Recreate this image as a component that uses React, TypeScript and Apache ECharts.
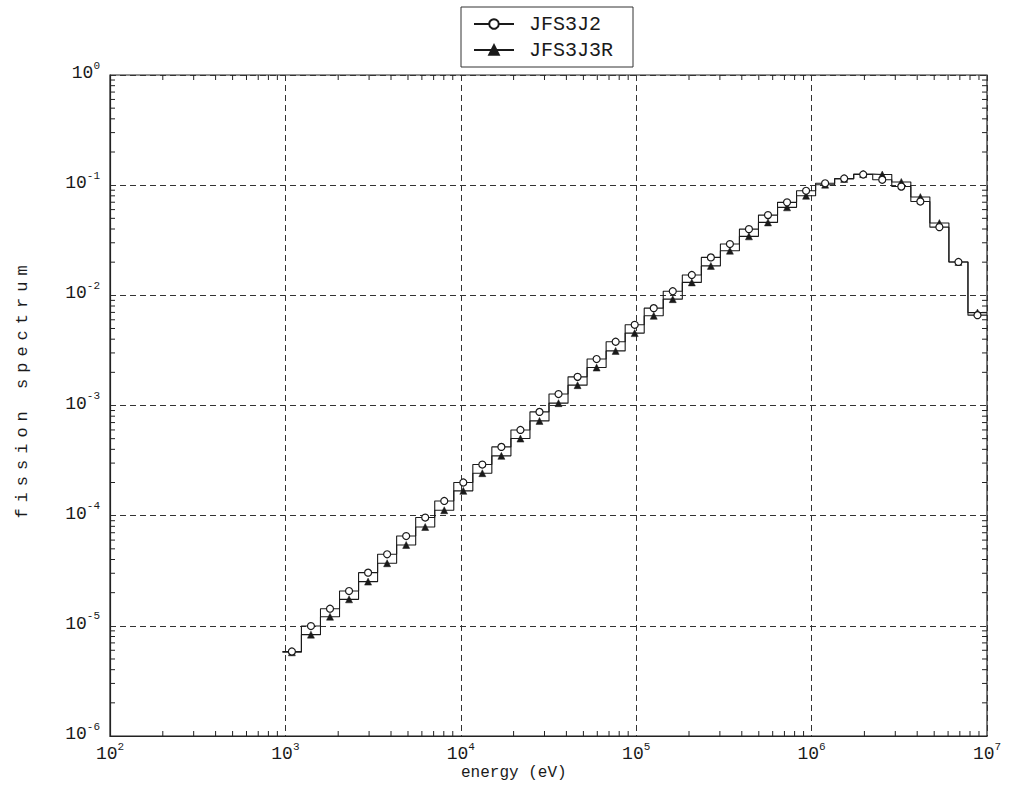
import React, { useEffect, useRef } from "react";
import * as echarts from "echarts";

// JFS-3 energy group boundaries (eV), group 1 (top) ... group 37
const groupBounds = [
  1.0e7, 7.788e6, 6.065e6, 4.724e6, 3.679e6, 2.865e6, 2.231e6, 1.738e6, 1.353e6, 1.054e6,
  8.208e5, 6.393e5, 4.979e5, 3.877e5, 3.02e5, 2.352e5, 1.832e5, 1.426e5, 1.111e5, 8.652e4,
  6.738e4, 5.248e4, 4.087e4, 3.183e4, 2.479e4, 1.931e4, 1.503e4, 1.171e4, 9119, 7102,
  5531, 4307, 3355, 2613, 2035, 1585, 1234, 961.1,
];

// fission spectrum per group, group 1 ... 37
const jfs3j2 = [
  6.61e-3, 2.01e-2, 4.16e-2, 7.1e-2, 9.71e-2, 0.112, 0.125, 0.115, 0.104, 8.89e-2,
  6.98e-2, 5.35e-2, 3.99e-2, 2.92e-2, 2.21e-2, 1.53e-2, 1.09e-2, 7.65e-3, 5.4e-3, 3.79e-3,
  2.64e-3, 1.82e-3, 1.27e-3, 8.75e-4, 6.0e-4, 4.21e-4, 2.91e-4, 2.0e-4, 1.36e-4, 9.61e-5,
  6.53e-5, 4.46e-5, 3.04e-5, 2.07e-5, 1.43e-5, 9.95e-6, 5.85e-6,
];
const jfs3j3r = [
  6.97e-3, 2.01e-2, 4.53e-2, 7.8e-2, 0.107, 0.125, 0.126, 0.114, 0.101, 8.01e-2,
  6.29e-2, 4.59e-2, 3.43e-2, 2.54e-2, 1.85e-2, 1.31e-2, 9.23e-3, 6.52e-3, 4.54e-3, 3.13e-3,
  2.21e-3, 1.53e-3, 1.05e-3, 7.25e-4, 5.01e-4, 3.49e-4, 2.43e-4, 1.68e-4, 1.12e-4, 7.89e-5,
  5.42e-5, 3.7e-5, 2.52e-5, 1.74e-5, 1.21e-5, 8.32e-6, 5.75e-6,
];

const seriesNames = ["JFS3J2", "JFS3J3R"];
const xDecades = [1e2, 1e3, 1e4, 1e5, 1e6];
const yDecades = [1e-6, 1e-5, 1e-4, 1e-3, 1e-2, 1e-1];
const minorMantissas = [2, 3, 4, 5, 6, 7, 8, 9];

const FONT = "'Liberation Mono', 'DejaVu Sans Mono', monospace";
const INK = "#1a1a1a";
const YNAME_INK = "#1b1b1c";

function stepData(vals: number[]) {
  const pts: any[] = [];
  for (let i = vals.length - 1; i >= 0; i--) {
    const lo = groupBounds[i + 1];
    const hi = groupBounds[i];
    pts.push({ value: [lo, vals[i]], symbol: "none" });
    pts.push({ value: [Math.sqrt(lo * hi), vals[i]] });
    pts.push({ value: [hi, vals[i]], symbol: "none" });
  }
  return pts;
}

const powLabel = (v: number) => {
  const e = Math.round(Math.log10(v));
  return "{m|10}{e|" + e + "}";
};

const labelRich = {
  m: { fontFamily: FONT, fontSize: 18, color: INK, lineHeight: 22, verticalAlign: "bottom" },
  e: { fontFamily: FONT, fontSize: 11, color: INK, lineHeight: 22, verticalAlign: "top" },
};

export default function App() {
  const ref = useRef<HTMLDivElement>(null);
  useEffect(() => {
    if (!ref.current) return;
    const chart = echarts.init(ref.current, null, { renderer: "svg" });
    const xMinor: number[][] = [];
    xDecades.forEach((d) => minorMantissas.forEach((m) => xMinor.push([d * m, 1e-3])));
    const yMinor: number[][] = [];
    yDecades.forEach((d) => minorMantissas.forEach((m) => yMinor.push([1e4, d * m])));
    const tickStyle = { stroke: "#222", lineWidth: 1 };
    const L = 5;

    chart.setOption({
      animation: false,
      backgroundColor: "#fff",
      grid: {
        left: 110,
        right: 23,
        top: 75,
        bottom: 62,
        show: true,
        borderColor: "#222",
        borderWidth: 1.2,
        backgroundColor: "transparent",
      },
      legend: {
        data: seriesNames,
        orient: "vertical",
        left: 461,
        top: 7,
        padding: [7, 20, 7, 12],
        itemGap: 6,
        itemWidth: 40,
        itemHeight: 12,
        borderColor: "#333",
        borderWidth: 1,
        backgroundColor: "#fff",
        textStyle: { fontFamily: FONT, fontSize: 20, color: INK, padding: [0, 0, 0, 10] },
      },
      xAxis: {
        type: "log",
        logBase: 10,
        min: 1e2,
        max: 1e7,
        splitNumber: 5,
        axisLine: { show: true, lineStyle: { color: "#222", width: 1.2 } },
        axisTick: { show: false },
        axisLabel: { formatter: powLabel, rich: labelRich, margin: 5 },
        splitLine: { show: true, lineStyle: { color: "#333", type: [6, 4], width: 1 } },
      },
      yAxis: {
        type: "log",
        logBase: 10,
        min: 1e-6,
        max: 1,
        splitNumber: 6,
        axisLine: { show: true, lineStyle: { color: "#222", width: 1.2 } },
        axisTick: { show: false },
        axisLabel: { formatter: powLabel, rich: labelRich, margin: 10, padding: [0, 0, 8, 0] },
        splitLine: { show: true, lineStyle: { color: "#333", type: [6, 4], width: 1 } },
      },
      graphic: [
        {
          type: "text",
          left: 461,
          top: 765,
          style: { text: "energy (eV)", fontFamily: FONT, fontSize: 16, fill: INK },
        },
        {
          type: "text",
          x: 22,
          y: 389,
          rotation: Math.PI / 2,
          style: {
            text: "fission spectrum",
            fontFamily: FONT,
            fontSize: 17,
            fill: YNAME_INK,
            align: "center",
            verticalAlign: "middle",
          },
        },
      ],
      series: [
        {
          name: "xminor",
          type: "custom",
          silent: true,
          data: xMinor,
          encode: { x: 0, y: 1 },
          renderItem: (params: any, api: any) => {
            const v = api.value(0);
            const b = api.coord([v, 1e-6]);
            const t = api.coord([v, 1]);
            return {
              type: "group",
              children: [
                { type: "line", shape: { x1: b[0], y1: b[1], x2: b[0], y2: b[1] - L }, style: tickStyle },
                { type: "line", shape: { x1: t[0], y1: t[1], x2: t[0], y2: t[1] + L }, style: tickStyle },
              ],
            };
          },
        },
        {
          name: "yminor",
          type: "custom",
          silent: true,
          data: yMinor,
          encode: { x: 0, y: 1 },
          renderItem: (params: any, api: any) => {
            const v = api.value(1);
            const l = api.coord([1e2, v]);
            const r = api.coord([1e7, v]);
            return {
              type: "group",
              children: [
                { type: "line", shape: { x1: l[0], y1: l[1], x2: l[0] + L, y2: l[1] }, style: tickStyle },
                { type: "line", shape: { x1: r[0], y1: r[1], x2: r[0] - L, y2: r[1] }, style: tickStyle },
              ],
            };
          },
        },
        {
          name: seriesNames[1],
          type: "line",
          data: stepData(jfs3j3r),
          symbol: "triangle",
          symbolSize: 7,
          lineStyle: { color: INK, width: 1.1 },
          itemStyle: { color: INK, borderColor: INK, borderWidth: 0.5 },
          z: 3,
        },
        {
          name: seriesNames[0],
          type: "line",
          data: stepData(jfs3j2),
          symbol: "circle",
          symbolSize: 7,
          lineStyle: { color: INK, width: 1.1 },
          itemStyle: { color: "#fff", borderColor: INK, borderWidth: 1.2 },
          z: 4,
        },
      ],
    });
    return () => chart.dispose();
  }, []);
  return (
    <>
      <style>{'text[fill="' + YNAME_INK + '"]{letter-spacing:6px;}'}</style>
      <div
        ref={ref}
        style={{ position: "absolute", left: 0, top: 0, width: 1010, height: 798, background: "#fff" }}
      />
    </>
  );
}
